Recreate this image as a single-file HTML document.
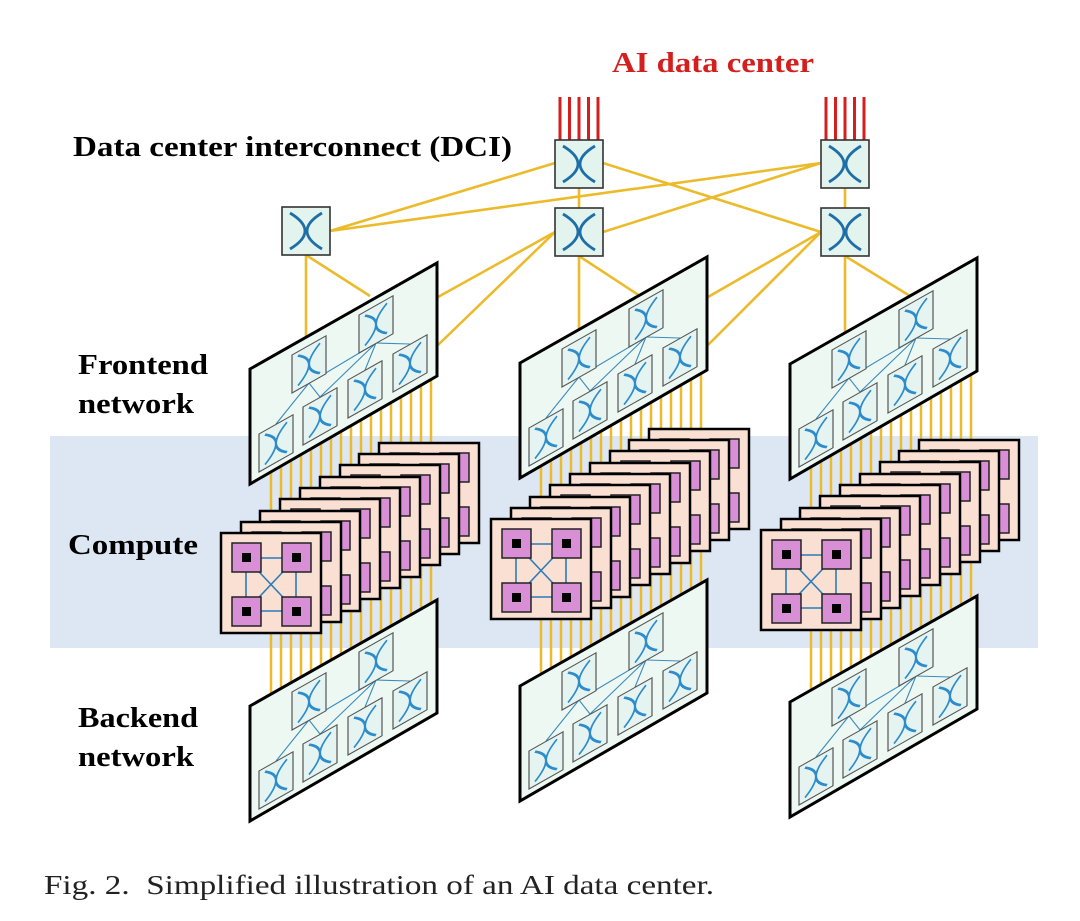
<!DOCTYPE html>
<html><head><meta charset="utf-8"><style>
html,body{margin:0;padding:0;background:#fff;}
svg{display:block;}
.t{font-family:"Liberation Serif","Times New Roman",serif;}
</style></head><body>
<svg width="1080" height="921" viewBox="0 0 1080 921" xmlns="http://www.w3.org/2000/svg">
<defs>
  <g id="sb">
    <rect x="0" y="0" width="34" height="38" fill="#e6f4f1" stroke="#555" stroke-width="1.2"/>
    <path d="M6,4 Q28,19 6,34 M28,4 Q6,19 28,34" fill="none" stroke="#2d8ccc" stroke-width="2.2"/>
  </g>
  <g id="panel">
    <polygon points="250,369 437,263 437,376 250,484" fill="#eef8f2" stroke="#000" stroke-width="3"/>
    <g stroke="#3a8cc0" stroke-width="1.1">
      <line x1="309" y1="383" x2="276" y2="424"/>
      <line x1="309" y1="383" x2="320" y2="397"/>
      <line x1="309" y1="383" x2="376" y2="343"/>
      <line x1="376" y1="343" x2="320" y2="397"/>
      <line x1="376" y1="343" x2="365" y2="370"/>
      <line x1="376" y1="343" x2="410" y2="344"/>
    </g>
    <g transform="translate(259,434) skewY(-29.5)"><use href="#sb"/></g>
    <g transform="translate(303,407) skewY(-29.5)"><use href="#sb"/></g>
    <g transform="translate(348,380) skewY(-29.5)"><use href="#sb"/></g>
    <g transform="translate(393,354) skewY(-29.5)"><use href="#sb"/></g>
    <g transform="translate(292,355) skewY(-29.5)"><use href="#sb"/></g>
    <g transform="translate(359,315) skewY(-29.5)"><use href="#sb"/></g>
  </g>
  <g id="card">
    <rect x="0" y="0" width="100" height="100" fill="#f9e0d3" stroke="#000" stroke-width="2.5"/>
    <g stroke="#2b7bb9" stroke-width="1.6">
      <line x1="25" y1="25" x2="75" y2="25"/><line x1="25" y1="78" x2="75" y2="78"/>
      <line x1="25" y1="25" x2="25" y2="78"/><line x1="75" y1="25" x2="75" y2="78"/>
      <line x1="25" y1="25" x2="75" y2="78"/><line x1="75" y1="25" x2="25" y2="78"/>
    </g>
    <g fill="#d88fd6" stroke="#222" stroke-width="1.5">
      <rect x="11" y="10" width="29" height="29"/><rect x="61" y="10" width="29" height="29"/>
      <rect x="11" y="64" width="29" height="29"/><rect x="61" y="64" width="29" height="29"/>
    </g>
    <g fill="#000">
      <rect x="21" y="20" width="9" height="9"/><rect x="71" y="20" width="9" height="9"/>
      <rect x="21" y="74" width="9" height="9"/><rect x="71" y="74" width="9" height="9"/>
    </g>
  </g>
  <g id="stack">
    <use href="#card" x="379" y="443"/>
    <use href="#card" x="359" y="454"/>
    <use href="#card" x="340" y="465"/>
    <use href="#card" x="320" y="477"/>
    <use href="#card" x="300" y="488"/>
    <use href="#card" x="280" y="499"/>
    <use href="#card" x="260" y="511"/>
    <use href="#card" x="241" y="522"/>
    <use href="#card" x="221" y="533"/>
  </g>
  <g id="vl" stroke="#ecbb2c" stroke-width="2.5">
    <line x1="271" y1="380" x2="271" y2="740"/><line x1="281" y1="380" x2="281" y2="740"/>
    <line x1="291" y1="380" x2="291" y2="740"/><line x1="301" y1="380" x2="301" y2="740"/>
    <line x1="311" y1="380" x2="311" y2="740"/><line x1="321" y1="380" x2="321" y2="740"/>
    <line x1="331" y1="380" x2="331" y2="740"/><line x1="341" y1="380" x2="341" y2="740"/>
    <line x1="351" y1="380" x2="351" y2="740"/><line x1="361" y1="370" x2="361" y2="730"/>
    <line x1="371" y1="365" x2="371" y2="725"/><line x1="381" y1="360" x2="381" y2="720"/>
    <line x1="391" y1="355" x2="391" y2="715"/><line x1="401" y1="350" x2="401" y2="710"/>
    <line x1="411" y1="345" x2="411" y2="705"/><line x1="421" y1="340" x2="421" y2="700"/>
    <line x1="431" y1="335" x2="431" y2="695"/>
  </g>
  <g id="bsw">
    <rect x="0" y="0" width="48" height="48" fill="#e3f3ee" stroke="#333" stroke-width="1.6"/>
    <path d="M8,6 Q38,24 8,42 M40,6 Q10,24 40,42" fill="none" stroke="#1e6fa8" stroke-width="2.8"/>
  </g>
</defs>

<rect x="50" y="436" width="988" height="212" fill="#dde7f3"/>

<g stroke="#ecbb2c" stroke-width="2.6">
  <line x1="330" y1="231" x2="555" y2="163"/>
  <line x1="330" y1="231" x2="821" y2="163"/>
  <line x1="603" y1="163" x2="821" y2="232"/>
  <line x1="821" y1="163" x2="603" y2="232"/>
  <line x1="579" y1="188" x2="579" y2="208"/>
  <line x1="845" y1="188" x2="845" y2="208"/>
  <line x1="306" y1="255" x2="306" y2="340"/>
  <line x1="306" y1="255" x2="370" y2="296"/>
  <line x1="555" y1="232" x2="438" y2="297"/>
  <line x1="555" y1="232" x2="438" y2="345"/>
  <line x1="579" y1="256" x2="579" y2="335"/>
  <line x1="579" y1="256" x2="640" y2="296"/>
  <line x1="821" y1="232" x2="708" y2="297"/>
  <line x1="821" y1="232" x2="708" y2="345"/>
  <line x1="845" y1="256" x2="845" y2="335"/>
  <line x1="845" y1="256" x2="910" y2="296"/>
</g>
<g stroke="#d41f1f" stroke-width="3">
  <line x1="560" y1="97" x2="560" y2="140"/><line x1="569.5" y1="97" x2="569.5" y2="140"/>
  <line x1="579" y1="97" x2="579" y2="140"/><line x1="588.5" y1="97" x2="588.5" y2="140"/>
  <line x1="598" y1="97" x2="598" y2="140"/>
  <line x1="826" y1="97" x2="826" y2="140"/><line x1="835.5" y1="97" x2="835.5" y2="140"/>
  <line x1="845" y1="97" x2="845" y2="140"/><line x1="854.5" y1="97" x2="854.5" y2="140"/>
  <line x1="864" y1="97" x2="864" y2="140"/>
</g>
<use href="#bsw" x="282" y="207"/>
<use href="#bsw" x="555" y="208"/>
<use href="#bsw" x="821" y="208"/>
<use href="#bsw" x="555" y="140"/>
<use href="#bsw" x="821" y="140"/>

<use href="#vl"/>
<use href="#panel"/>
<use href="#stack"/>
<use href="#panel" y="337"/>

<use href="#vl" x="270" y="-10"/>
<use href="#panel" x="270" y="-6"/>
<use href="#stack" x="270" y="-14"/>
<use href="#panel" x="270" y="317"/>

<use href="#vl" x="540" y="-4"/>
<use href="#panel" x="540" y="-5"/>
<use href="#stack" x="540" y="-3"/>
<use href="#panel" x="540" y="333"/>

<g class="t" font-weight="bold" font-size="28" fill="#000">
  <text x="612" y="72" fill="#d41f1f" textLength="202" lengthAdjust="spacingAndGlyphs">AI data center</text>
  <text x="73" y="156" textLength="439" lengthAdjust="spacingAndGlyphs">Data center interconnect (DCI)</text>
  <text x="78" y="374" textLength="130" lengthAdjust="spacingAndGlyphs">Frontend</text>
  <text x="78" y="413" textLength="116" lengthAdjust="spacingAndGlyphs">network</text>
  <text x="68" y="554" textLength="130" lengthAdjust="spacingAndGlyphs">Compute</text>
  <text x="78" y="727" textLength="120" lengthAdjust="spacingAndGlyphs">Backend</text>
  <text x="78" y="766" textLength="116" lengthAdjust="spacingAndGlyphs">network</text>
</g>
<text class="t" x="44" y="894" font-size="27" fill="#222" textLength="670" lengthAdjust="spacingAndGlyphs" xml:space="preserve">Fig. 2.  Simplified illustration of an AI data center.</text>
</svg>
</body></html>
